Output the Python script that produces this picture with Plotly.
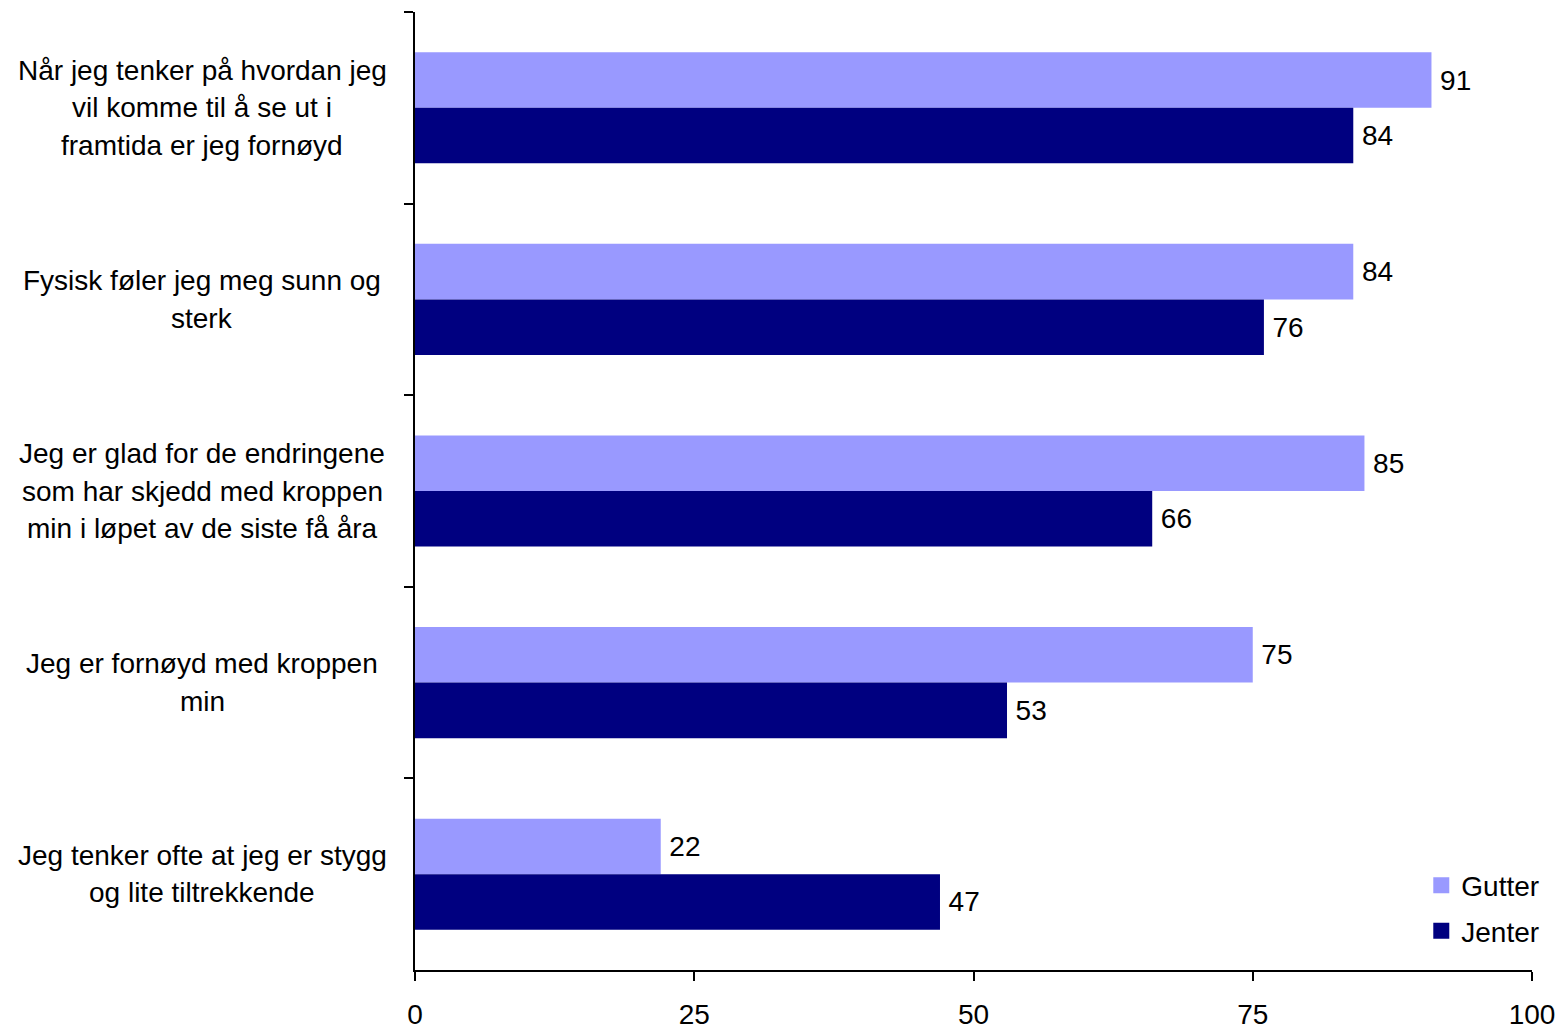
import plotly.graph_objects as go

categories = [
    ["Når jeg tenker på hvordan jeg", "vil komme til å se ut i", "framtida er jeg fornøyd"],
    ["Fysisk føler jeg meg sunn og", "sterk"],
    ["Jeg er glad for de endringene", "som har skjedd med kroppen", "min i løpet av de siste få åra"],
    ["Jeg er fornøyd med kroppen", "min"],
    ["Jeg tenker ofte at jeg er stygg", "og lite tiltrekkende"],
]
cat_keys = [" ".join(c) for c in categories]
gutter = [91, 84, 85, 75, 22]
jenter = [84, 76, 66, 53, 47]
x_ticks = [0, 25, 50, 75, 100]
series_names = ["Gutter", "Jenter"]
series_colors = ["#9999FF", "#000080"]

FONT = "Liberation Sans, Arial, sans-serif"
FS = 28

fig = go.Figure()
for name, vals, col in zip(series_names, [gutter, jenter], series_colors):
    fig.add_trace(go.Bar(
        y=cat_keys, x=vals, name=name, orientation="h",
        marker=dict(color=col, line=dict(width=0)),
        text=["\u2009" + str(v) for v in vals], textposition="outside",
        textfont=dict(family=FONT, size=FS, color="black"),
        cliponaxis=False, showlegend=False,
    ))
# legend entries (square swatches)
for i, (name, col) in enumerate(zip(series_names, series_colors)):
    fig.add_trace(go.Scatter(
        x=[None], y=[None], mode="markers", name=name,
        marker=dict(symbol="square", size=20, color=col),
        legendgroup=name, showlegend=True,
    ))

annotations = []
line_gap = 37.5
for i, lines in enumerate(categories):
    n = len(lines)
    for k, ln in enumerate(lines):
        shift = ((n - 1) / 2 - k) * line_gap
        annotations.append(dict(
            x=0, xref="paper", y=cat_keys[i], yref="y",
            text=ln, showarrow=False, xanchor="center", yanchor="middle",
            yshift=shift, xshift=-213,
            font=dict(family=FONT, size=FS, color="black"),
        ))

fig.update_layout(
    width=1560, height=1030,
    margin=dict(l=415, r=28, t=12, b=60),
    plot_bgcolor="white", paper_bgcolor="white",
    barmode="group", bargap=0.42, bargroupgap=0,
    font=dict(family=FONT, size=FS, color="black"),
    showlegend=True,
    legend=dict(x=1.011, y=0.015, xanchor="right", yanchor="bottom",
                font=dict(family=FONT, size=FS, color="black"),
                bgcolor="rgba(0,0,0,0)", tracegroupgap=6,
                traceorder="grouped", itemwidth=30),
    annotations=annotations,
    xaxis=dict(range=[0, 100], tickvals=x_ticks, ticktext=[str(v) for v in x_ticks],
               showgrid=False, zeroline=False, showline=True, linecolor="black",
               linewidth=2, ticks="outside", ticklen=9, tickwidth=2, tickcolor="black",
               ticklabelstandoff=9, automargin=False,
               tickfont=dict(family=FONT, size=FS, color="black")),
    yaxis=dict(type="category", categoryorder="array", categoryarray=cat_keys,
               autorange="reversed", showticklabels=False, tickson="boundaries",
               automargin=False,
               showgrid=False, zeroline=False, showline=True, linecolor="black",
               linewidth=2, ticks="outside", ticklen=9, tickwidth=2, tickcolor="black"),
)

fig.write_html("out.html", config={"displayModeBar": False},
               post_script="document.body.style.margin='0';document.body.style.overflow='hidden';")
